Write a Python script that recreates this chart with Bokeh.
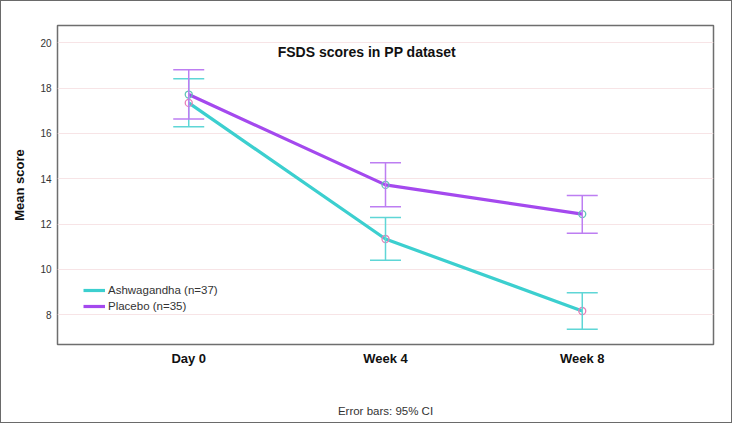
from bokeh.plotting import figure
from bokeh.models import (ColumnDataSource, Whisker, TeeHead, Label, Legend,
                          LegendItem, FixedTicker, Range1d)
from bokeh.embed import file_html
from bokeh.resources import INLINE

# ---- data ----
timepoints = ["Day 0", "Week 4", "Week 8"]
tick_values = [8, 10, 12, 14, 16, 18, 20]
ash_mean = [17.35, 11.34, 8.16]
ash_lo = [16.30, 10.40, 7.35]
ash_hi = [18.42, 12.29, 8.97]
pla_mean = [17.72, 13.73, 12.44]
pla_lo = [16.64, 12.76, 11.59]
pla_hi = [18.82, 14.71, 13.26]
ash_name = "Ashwagandha (n=37)"
pla_name = "Placebo (n=35)"

FONT = "Liberation Sans"
ASH = "#3ccfcf"
ASH_EB = "#5fd6d6"
PLA = "#a449ee"
PLA_EB = "#bd7ef2"

xpos = list(range(len(timepoints)))
ash_src = ColumnDataSource(dict(x=xpos, m=ash_mean, lo=ash_lo, hi=ash_hi))
pla_src = ColumnDataSource(dict(x=xpos, m=pla_mean, lo=pla_lo, hi=pla_hi))

p = figure(width=732, height=423, output_backend="svg", toolbar_location=None,
           x_range=Range1d(-0.667, 2.667), y_range=Range1d(6.68, 20.77),
           min_border_left=56, min_border_right=20, min_border_top=24,
           min_border_bottom=80)
p.styles = {"border": "1px solid #6a6a6a"}
p.background_fill_color = "white"
p.border_fill_color = "white"
p.outline_line_color = "#6e6e6e"
p.outline_line_width = 1.5

# grid
p.xgrid.visible = False
p.ygrid.ticker = FixedTicker(ticks=tick_values)
p.ygrid.grid_line_color = "#f7e4e6"
p.ygrid.grid_line_width = 1

# axes
p.xaxis.ticker = FixedTicker(ticks=xpos)
p.xaxis.major_label_overrides = {i: t for i, t in enumerate(timepoints)}
p.xaxis.major_label_text_font = FONT
p.xaxis.major_label_text_font_style = "bold"
p.xaxis.major_label_text_font_size = "13px"
p.xaxis.major_label_text_color = "#111111"
p.xaxis.major_label_standoff = 6
# footnote carried by the x axis label
p.xaxis.axis_label = "Error bars: 95% CI"
p.xaxis.axis_label_text_font = FONT
p.xaxis.axis_label_text_font_size = "11.5px"
p.xaxis.axis_label_text_font_style = "normal"
p.xaxis.axis_label_text_color = "#333333"
p.xaxis.axis_label_standoff = 36
p.yaxis.ticker = FixedTicker(ticks=tick_values)
p.yaxis.major_label_text_font = FONT
p.yaxis.major_label_text_font_size = "10px"
p.yaxis.major_label_text_color = "#333333"
p.yaxis.major_label_standoff = 6
p.yaxis.axis_label = "Mean score"
p.yaxis.axis_label_text_font = FONT
p.yaxis.axis_label_text_font_style = "bold"
p.yaxis.axis_label_text_font_size = "13px"
p.yaxis.axis_label_text_color = "#111111"
p.yaxis.axis_label_standoff = 10
for ax in (p.xaxis, p.yaxis):
    ax.axis_line_color = None
    ax.major_tick_line_color = None
    ax.minor_tick_line_color = None
    ax.major_tick_out = 0
    ax.major_tick_in = 0

# error bars
for src, col in ((ash_src, ASH_EB), (pla_src, PLA_EB)):
    w = Whisker(base="x", upper="hi", lower="lo", source=src,
                line_color=col, line_width=1.5, level="glyph",
                upper_head=TeeHead(size=31, line_color=col, line_width=1.5),
                lower_head=TeeHead(size=31, line_color=col, line_width=1.5))
    p.add_layout(w)

# lines
r_ash = p.line("x", "m", source=ash_src, line_color=ASH, line_width=3.2)
r_pla = p.line("x", "m", source=pla_src, line_color=PLA, line_width=3.2)

# markers
p.scatter("x", "m", source=ash_src, marker="circle", size=7, fill_alpha=0,
          line_color="#e67fb8", line_width=1.3)
p.scatter("x", "m", source=pla_src, marker="circle", size=7, fill_alpha=0,
          line_color="#63c4b6", line_width=1.3)

# legend
legend = Legend(items=[LegendItem(label=ash_name, renderers=[r_ash]),
                       LegendItem(label=pla_name, renderers=[r_pla])],
                location=(26, 31), padding=0, margin=0, spacing=2,
                label_height=14, glyph_height=14, glyph_width=22,
                label_standoff=3, border_line_color=None,
                background_fill_alpha=0,
                label_text_font=FONT, label_text_font_size="11.5px",
                label_text_color="#333333")
p.add_layout(legend)

# chart title inside the frame
p.add_layout(Label(x=0.905, y=19.6, text="FSDS scores in PP dataset",
                   text_font=FONT, text_font_size="14px",
                   text_font_style="bold", text_color="#111111",
                   text_align="center", text_baseline="middle"))

open("out.html", "w").write(file_html(p, INLINE))
